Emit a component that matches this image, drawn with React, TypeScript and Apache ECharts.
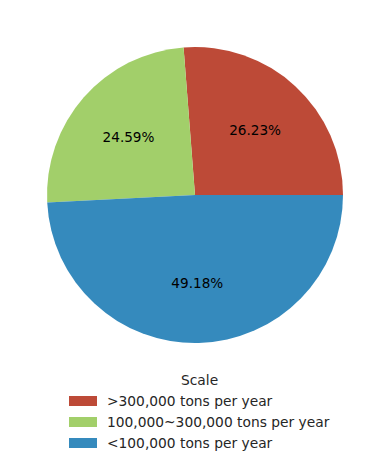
import React, { useEffect, useRef } from "react";
import * as echarts from "echarts";

const categories = [">300,000 tons per year", "100,000~300,000 tons per year", "<100,000 tons per year"];
const values = [26.23, 24.59, 49.18];
const colors = ["#bd4a37", "#a2cf6a", "#358abd"];
const legendTitle = "Scale";

const FONT = "DejaVu Sans";

export default function App() {
  const ref = useRef<HTMLDivElement>(null);
  useEffect(() => {
    document.body.style.margin = "0";
    const chart = echarts.init(ref.current!, null, { renderer: "svg" });
    const data = categories.map((name, i) => ({
      name,
      value: values[i],
      itemStyle: { color: colors[i] },
    }));
    chart.setOption({
      animation: false,
      backgroundColor: "#ffffff",
      graphic: [
        {
          type: "text",
          left: 181,
          top: 373,
          style: { text: legendTitle, font: `13.8px "${FONT}"`, fill: "#262626" },
        },
      ],
      legend: {
        orient: "vertical",
        left: 69,
        top: 394,
        height: 70,
        padding: 0,
        icon: "rect",
        itemWidth: 28,
        itemHeight: 10,
        itemGap: 7,
        selectedMode: false,
        textStyle: { fontFamily: FONT, fontSize: 13.8, color: "#262626", padding: [0, 0, 0, 5] },
        data: categories,
      },
      series: [
        {
          type: "pie",
          center: [195, 195],
          radius: [0, 148],
          startAngle: 0,
          clockwise: false,
          silent: true,
          label: { show: false },
          labelLine: { show: false },
          data,
        },
        {
          type: "pie",
          center: [195, 195],
          radius: [0, 171],
          startAngle: 0,
          clockwise: false,
          silent: true,
          legendHoverLink: false,
          itemStyle: { color: "rgba(0,0,0,0)" },
          label: {
            show: true,
            position: "inside",
            formatter: (p: any) => p.value.toFixed(2) + "%",
            fontFamily: FONT,
            fontSize: 13.6,
            color: "#000000",
          },
          labelLine: { show: false },
          data: categories.map((name, i) => ({ name: name + " ", value: values[i] })),
        },
      ],
    });
    return () => chart.dispose();
  }, []);
  return <div ref={ref} style={{ width: 389, height: 466 }} />;
}
